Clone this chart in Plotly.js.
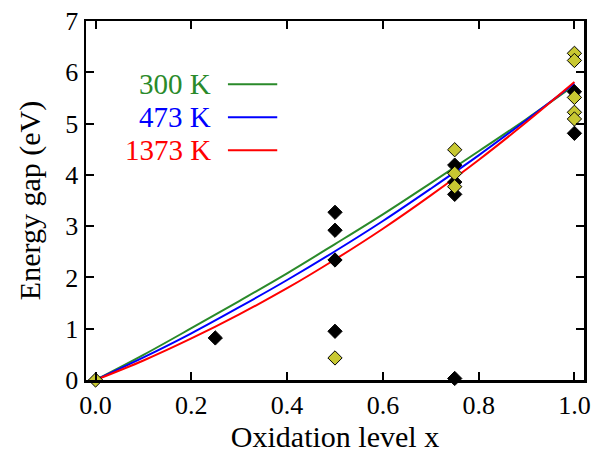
<!DOCTYPE html>
<html>
<head>
<meta charset="utf-8">
<script src="https://cdn.plot.ly/plotly-3.0.1.min.js"></script>
<style>html,body{margin:0;padding:0;background:#fff;}#chart{width:604px;height:454px;}</style>
</head>
<body>
<div id="chart"></div>
<script>
// Curves
const curveX = [0, 0.1, 0.2, 0.3, 0.4, 0.5, 0.6, 0.7, 0.8, 0.9, 1.0];
const curve300 = [0, 0.49, 1.01, 1.54, 2.08, 2.65, 3.23, 3.84, 4.46, 5.09, 5.75];
const curve473 = [0, 0.44, 0.91, 1.42, 1.95, 2.51, 3.10, 3.73, 4.38, 5.07, 5.78];
const curve1373 = [0, 0.38, 0.81, 1.28, 1.79, 2.35, 2.95, 3.60, 4.29, 5.03, 5.81];
const curveNames = ["300 K", "473 K", "1373 K"];
const curveColors = ["#2a8a2a", "#0000ff", "#ff0000"];

// Black diamonds
const blackX = [0.25, 0.5, 0.5, 0.5, 0.5, 0.75, 0.75, 0.75, 0.75, 1.0, 1.0];
const blackY = [0.82, 3.27, 2.92, 2.34, 0.95, 4.19, 3.86, 3.62, 0.03, 5.62, 4.81];
// Yellow diamonds
const yellowX = [0.0, 0.5, 0.75, 0.75, 0.75, 1.0, 1.0, 1.0, 1.0, 1.0];
const yellowY = [0.0, 0.43, 4.49, 4.03, 3.77, 6.37, 6.23, 5.51, 5.22, 5.09];

const xTicks = [0, 0.2, 0.4, 0.6, 0.8, 1.0];
const yTicks = [0, 1, 2, 3, 4, 5, 6, 7];

const FONT = "Liberation Serif, Times New Roman, serif";
const curves = [curve300, curve473, curve1373];

const traces = curves.map((c, i) => ({
  x: curveX, y: c, type: "scatter", mode: "lines",
  line: {color: curveColors[i], width: 2, shape: "spline", smoothing: 1},
  name: curveNames[i], showlegend: false, hoverinfo: "skip"
}));
traces.push({
  x: blackX, y: blackY, type: "scatter", mode: "markers", showlegend: false,
  marker: {symbol: "diamond", size: 11, color: "#000000", line: {color: "#000000", width: 1}},
  cliponaxis: false
});
traces.push({
  x: yellowX, y: yellowY, type: "scatter", mode: "markers", showlegend: false,
  marker: {symbol: "diamond", size: 11, color: "#c8c832", line: {color: "#000000", width: 1}},
  cliponaxis: false
});

// Legend (text on left, line on right)
const legY = [0.824, 0.732, 0.640];
const annotations = curveNames.map((n, i) => ({
  xref: "paper", yref: "paper", x: 0.255, y: legY[i], xanchor: "right", yanchor: "middle",
  text: n, showarrow: false, font: {family: FONT, size: 29, color: curveColors[i]}
}));
const shapes = curveNames.map((n, i) => ({
  type: "line", xref: "paper", yref: "paper", x0: 0.285, x1: 0.384, y0: legY[i], y1: legY[i],
  line: {color: curveColors[i], width: 2}
}));

const axisCommon = {
  showline: true, linecolor: "#000", linewidth: 2.5, mirror: "ticks",
  ticks: "inside", ticklen: 8, tickwidth: 2, tickcolor: "#000",
  showgrid: false, zeroline: false,
  tickfont: {family: FONT, size: 26, color: "#000"}
};

const layout = {
  width: 604, height: 454,
  margin: {l: 86, r: 20, t: 21, b: 74},
  paper_bgcolor: "#fff", plot_bgcolor: "#fff",
  showlegend: false,
  xaxis: Object.assign({}, axisCommon, {
    range: [-0.02, 1.02], tickvals: xTicks, ticktext: xTicks.map(v => v.toFixed(1)),
    title: {text: "Oxidation level x", font: {family: FONT, size: 30, color: "#000"}, standoff: 7},
    automargin: false
  }),
  yaxis: Object.assign({}, axisCommon, {
    range: [0, 7], tickvals: yTicks, ticktext: yTicks.map(String),
    title: {text: "Energy gap (eV)", font: {family: FONT, size: 30, color: "#000"}, standoff: 16},
    automargin: false
  }),
  annotations: annotations,
  shapes: shapes
};

Plotly.newPlot("chart", traces, layout, {displayModeBar: false, staticPlot: true});
</script>
</body>
</html>
